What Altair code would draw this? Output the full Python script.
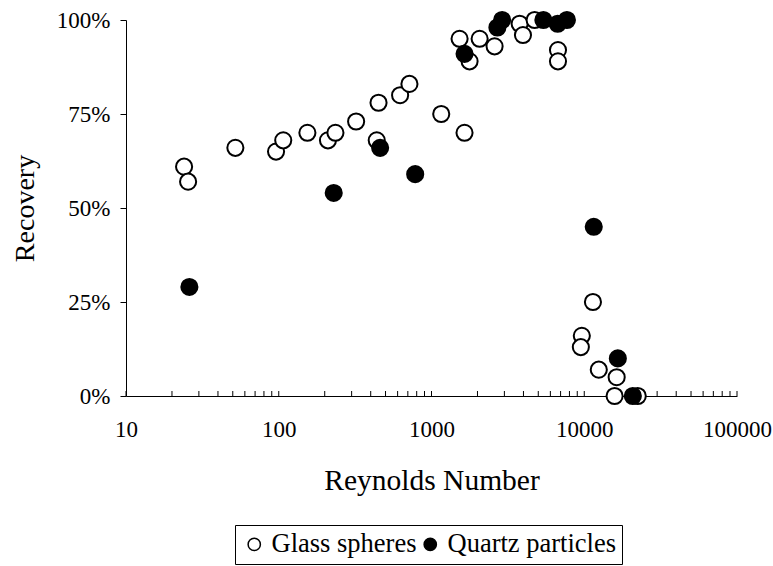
import altair as alt
import pandas as pd

# Glass spheres (open circles)
glass_re = [24, 25.5, 52, 96, 107, 154, 210, 235, 321, 438, 450, 623, 717, 1158,
            1645, 1527, 1775, 2066, 2588, 3776, 3970, 4733, 6730, 6730,
            11400, 9640, 9500, 12450, 16300, 15800, 22400]
glass_rec = [61, 57, 66, 65, 68, 70, 68, 70, 73, 68, 78, 80, 83, 75,
             70, 95, 89, 95, 93, 99, 96, 100, 92, 89,
             25, 16, 13, 7, 5, 0, 0]

# Quartz particles (filled circles)
quartz_re = [26, 229, 461, 782, 1646, 2700, 2900, 5400, 6700, 7700, 11540, 16590, 20800]
quartz_rec = [29, 54, 66, 59, 91, 98, 100, 100, 99, 100, 45, 10, 0]

series_names = ["Glass spheres", "Quartz particles"]
x_labels = [10, 100, 1000, 10000, 100000]
y_labels = [0, 0.25, 0.5, 0.75, 1.0]
tick_mult = [1, 2, 3, 4, 5, 6, 7, 8, 9]

rows = []
for r, v in zip(glass_re, glass_rec):
    rows.append({"Re": r, "Recovery": v / 100, "Series": series_names[0]})
for r, v in zip(quartz_re, quartz_rec):
    rows.append({"Re": r, "Recovery": v / 100, "Series": series_names[1]})
df = pd.DataFrame(rows)

ticks = [m * d for d in x_labels[:-1] for m in tick_mult] + [x_labels[-1]]
tdf = pd.DataFrame({"t": ticks})

W, H = 611, 376

xscale = alt.Scale(type="log", domain=[10, 100000], nice=False)
yscale = alt.Scale(domain=[0, 1], nice=False, zero=False)

x_axis = alt.Axis(values=x_labels, format="d", ticks=False, labelPadding=22,
                  title="Reynolds Number", titleY=84, titleBaseline="middle",
                  titleFontSize=29.5,
                  labelFontSize=23, labelFlush=False, grid=False)

points = alt.Chart(df).mark_point(
    shape="circle", filled=True, size=260, stroke="black", strokeWidth=2, opacity=1
).encode(
    x=alt.X("Re:Q", scale=xscale, axis=x_axis),
    y=alt.Y("Recovery:Q", scale=yscale,
            axis=alt.Axis(values=y_labels, format=".0%", tickSize=6, tickColor="black",
                          labelPadding=10, title="Recovery", titleX=-101, titleY=188,
                          titleAngle=-90, titleAlign="center", titleBaseline="middle",
                          labelFontSize=23, grid=False)),
    fill=alt.Fill("Series:N",
                  scale=alt.Scale(domain=series_names, range=["white", "black"]),
                  legend=alt.Legend(title=None, orient="none", legendX=109, legendY=505,
                                    direction="horizontal", strokeColor="black",
                                    fillColor="white", padding=6, symbolType="circle",
                                    symbolSize=150, symbolStrokeColor="black",
                                    symbolStrokeWidth=1.5, labelFont="Liberation Serif",
                                    labelFontSize=26.5, labelColor="black", labelLimit=400,
                                    columnPadding=0, labelOffset=4)),
)

tickmarks = alt.Chart(tdf).mark_rule(color="black", strokeWidth=1).encode(
    x=alt.X("t:Q", scale=xscale, axis=x_axis),
    y=alt.value(H),
    y2=alt.value(H - 5),
)

chart = alt.layer(points, tickmarks).properties(
    width=W, height=H,
    autosize=alt.AutoSizeParams(type="none"),
    padding={"left": 126, "top": 20, "right": 773 - 126 - W, "bottom": 566 - 20 - H},
).configure_view(stroke=None).configure_axis(
    grid=False, domainColor="black", domainWidth=1,
    labelFont="Liberation Serif", labelColor="black",
    titleFont="Liberation Serif", titleFontSize=28, titleFontWeight="normal",
    titleColor="black",
)

chart.save("out.html", embed_options={"renderer": "svg", "actions": False})
